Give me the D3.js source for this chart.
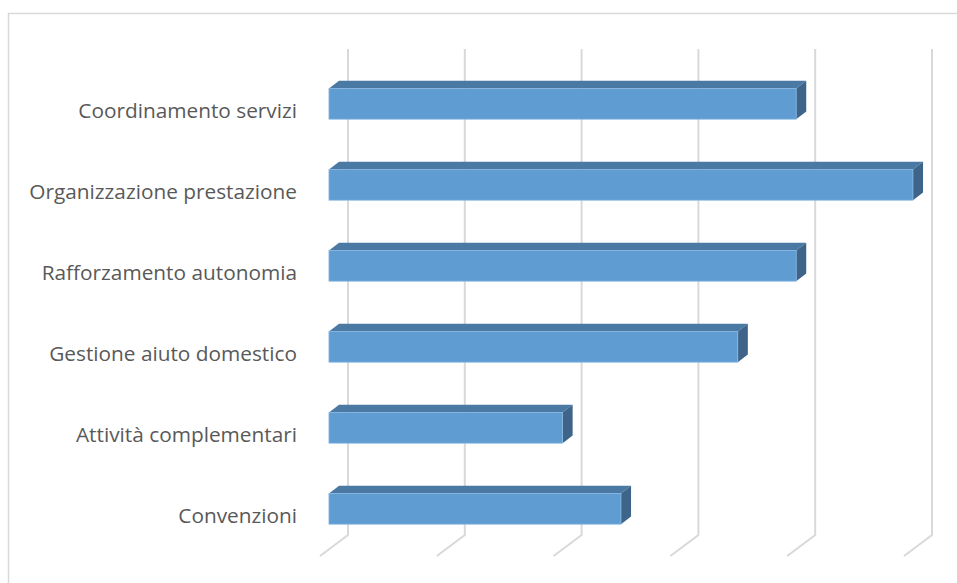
<!DOCTYPE html>
<html>
<head>
<meta charset="utf-8">
<script src="https://cdn.jsdelivr.net/npm/d3@7"></script>
<style>
  body { margin: 0; background: #fff; }
  svg { display: block; }
</style>
</head>
<body>
<div id="chart"></div>
<script>
// categories top to bottom, values in gridline units
const categories = ["Coordinamento servizi", "Organizzazione prestazione", "Rafforzamento autonomia",
  "Gestione aiuto domestico", "Attività complementari", "Convenzioni"];
const values = [4, 5, 4, 3.5, 2, 2.5];
const gridTicks = [0, 1, 2, 3, 4, 5];

const width = 957, height = 583;
const svg = d3.select("#chart").append("svg")
    .attr("width", width)
    .attr("height", height);

// chart area border
svg.append("rect")
    .attr("x", 8.5).attr("y", 13.5)
    .attr("width", 960).attr("height", 600)
    .attr("fill", "none")
    .attr("stroke", "#d9d9d9")
    .attr("stroke-width", 1.5);

// back plane scales
const x = d3.scaleLinear().domain([0, 5]).range([348, 932]);
const y = d3.scaleBand().domain(categories).range([49, 535])
    .paddingInner(0.62).paddingOuter(0.31);

// 3d depth: back -> front
const depth = {dx: -28, dy: 21};
const f0 = 0.32, f1 = 0.68; // bar back / front depth

// gridlines (vertical on the back wall, then slanting on the floor)
svg.append("g").selectAll("path")
  .data(gridTicks)
  .join("path")
    .attr("d", d => `M${x(d)},${y.range()[0]}L${x(d)},${y.range()[1]}l${depth.dx},${depth.dy}`)
    .attr("fill", "none")
    .attr("stroke", "#d9d9d9")
    .attr("stroke-width", 2);

const bars = svg.append("g").selectAll("g")
  .data(categories.map((c, i) => ({c, v: values[i]})))
  .join("g");

function pt(v, yy, f) {
  return [x(v) + f * depth.dx, yy + f * depth.dy];
}

// top face
bars.append("path")
    .attr("d", d => {
      const yt = y(d.c);
      return "M" + [pt(0, yt, f1), pt(d.v, yt, f1), pt(d.v, yt, f0), pt(0, yt, f0)].join("L") + "Z";
    })
    .attr("fill", "#4a79a3");

// right side face
bars.append("path")
    .attr("d", d => {
      const yt = y(d.c), yb = y(d.c) + y.bandwidth();
      return "M" + [pt(d.v, yt, f1), pt(d.v, yt, f0), pt(d.v, yb, f0), pt(d.v, yb, f1)].join("L") + "Z";
    })
    .attr("fill", "#3e6589");

// front face
bars.append("rect")
    .attr("x", d => x(0) + f1 * depth.dx)
    .attr("y", d => y(d.c) + f1 * depth.dy)
    .attr("width", d => x(d.v) - x(0))
    .attr("height", y.bandwidth())
    .attr("fill", "#5e9cd2")
    .attr("stroke", "#8ab8e2")
    .attr("stroke-width", 0.8);

// category labels, centred on the front edge of the floor band
svg.append("g").selectAll("text")
  .data(categories)
  .join("text")
    .attr("x", 297)
    .attr("y", d => y(d) + y.bandwidth() / 2 + depth.dy)
    .attr("dy", "0.35em")
    .attr("text-anchor", "end")
    .attr("font-family", "'Open Sans', sans-serif")
    .attr("font-size", 20.8)
    .attr("fill", "#595959")
    .text(d => d);
</script>
</body>
</html>
